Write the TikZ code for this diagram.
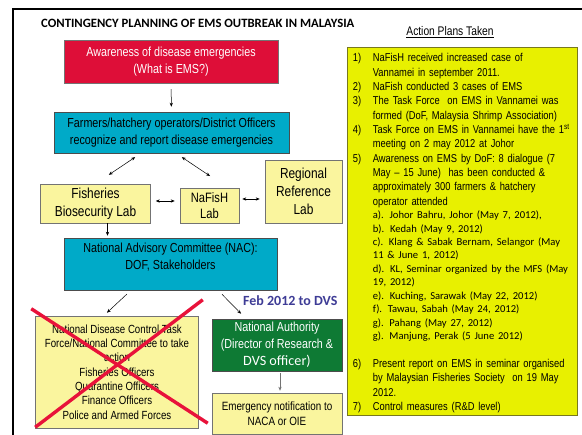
\documentclass[tikz,border=0pt]{standalone}
\usepackage{fontspec}
\setmainfont{Liberation Sans}
\newfontfamily\narrowsans{Liberation Sans}[FakeStretch=0.82]
\newfontfamily\calibrisans{Carlito}
\usetikzlibrary{arrows.meta,calc}

\definecolor{alarmred}{RGB}{222,14,56}
\definecolor{reportteal}{RGB}{0,170,200}
\definecolor{labyellow}{RGB}{250,245,158}
\definecolor{authgreen}{RGB}{14,122,52}
\definecolor{planyellow}{RGB}{232,240,0}
\definecolor{planborder}{RGB}{120,120,30}
\definecolor{febblue}{RGB}{62,60,150}
\definecolor{crossred}{RGB}{232,18,58}

% one line of the action plan list: number column, then text (never wrapped)
\newcommand\planrow[2]{\noindent\makebox[20pt][l]{#1}\mbox{#2}\par}

\tikzset{
  box/.style={draw=black!55, line width=0.5pt, inner sep=0pt, align=center},
  bigtext/.style={font=\narrowsans\fontsize{13.1}{16.8}\selectfont},
  labtext/.style={font=\narrowsans\fontsize{14.5}{17.8}\selectfont},
  smalltext/.style={font=\narrowsans\fontsize{11.8}{14.3}\selectfont},
  arr/.style={-{Stealth[length=4pt,width=3.2pt]}, line width=0.5pt},
  dbl/.style={{Stealth[length=4pt,width=3.2pt]}-{Stealth[length=4pt,width=3.2pt]}, line width=0.5pt},
  cross/.style={crossred, line width=3.4pt},
}

\begin{document}
\begin{tikzpicture}[x=1pt,y=-1pt]
\useasboundingbox (0,0) rectangle (582,435);
\fill[white] (0,0) rectangle (582,435);

% outer frame
\draw[line width=2.6pt] (13,436) -- (13,9) -- (583,9);

% heading
\node[anchor=west, inner sep=0pt, font=\calibrisans\bfseries\fontsize{12.7}{14}\selectfont]
  (title) at (41,23) {CONTINGENCY PLANNING OF EMS OUTBREAK IN MALAYSIA};

% flow chart
\node[box, bigtext, fill=alarmred, text=white, minimum width=214pt, minimum height=43pt]
  (aware) at (171,61.5) {Awareness of disease emergencies\\(What is EMS?)};
\node[box, bigtext, draw=black!70, fill=reportteal, minimum width=235pt, minimum height=41pt]
  (report) at (171.5,132.5) {Farmers/hatchery operators/District Officers\\recognize and report disease emergencies};
\node[box, labtext, fill=labyellow, minimum width=110pt, minimum height=39pt]
  (fish) at (95.5,203.5) {Fisheries\\Biosecurity Lab};
\node[box, font=\narrowsans\fontsize{13.6}{16.5}\selectfont, fill=labyellow, minimum width=59pt, minimum height=35pt]
  (nafish) at (209.5,205.5) {NaFisH\\Lab};
\node[box, labtext, fill=labyellow, minimum width=77pt, minimum height=63pt]
  (regional) at (303.5,191.5) {Regional\\Reference\\Lab};
\node[box, draw=black!70, fill=reportteal, minimum width=213pt, minimum height=52pt]
  (nac) at (170.5,264) {};
\node[bigtext, align=center, inner sep=0pt, anchor=north]
  (nactext) at ($(nac.north)+(0,5)$) {National Advisory Committee (NAC):\\DOF, Stakeholders};
\node[box, smalltext, fill=labyellow, minimum width=163pt, minimum height=112pt]
  (taskforce) at (117,372) {National Disease Control Task\\Force/National Committee to take\\action\\Fisheries Officers\\Quarantine Officers\\Finance Officers\\Police and Armed Forces};
\node[box, bigtext, draw=black!70, fill=authgreen, text=white, minimum width=130pt, minimum height=52pt]
  (authority) at (277,345) {National Authority\\(Director of Research \&\\{\calibrisans\fontsize{14.2}{16}\selectfont DVS officer)}};
\node[box, font=\narrowsans\fontsize{12}{15}\selectfont, fill=labyellow, minimum width=130pt, minimum height=41pt]
  (notify) at (277,413.5) {Emergency notification to\\NACA or OIE};
\node[anchor=west, inner sep=0pt, text=febblue, font=\calibrisans\bfseries\fontsize{14}{16}\selectfont]
  (feb) at (243,301) {Feb 2012 to DVS};

% the cancelled task force
\draw[cross] ($(taskforce.north west)+(-4,-7)$) -- ($(taskforce.south east)+(9,-5)$);
\draw[cross] ($(taskforce.south west)+(0,-1)$) -- ($(taskforce.north east)+(4,-16)$);

% connectors
\draw[arr, shorten <=6pt, shorten >=5pt] (aware) -- (report);
\draw[dbl, shorten <=7pt, shorten >=16pt] ($(report.south)+(-30.5,0)$) -- (fish.north);
\draw[dbl, shorten <=7pt, shorten >=21pt] ($(report.south)+(4.5,0)$) -- ($(nafish.north)+(18,0)$);
\draw[dbl] ($(fish.east)+(5,-2.5)$) -- ($(nafish.west)+(-5,-4.5)$);
\draw[dbl] ($(nafish.east)+(3,-6.5)$) -- ($(regional.west)+(-5,7.5)$);
\coordinate (fishout) at ($(fish.south)+(12,0)$);
\draw[arr, shorten >=2pt] (fishout) -- (fishout |- nac.north);
\draw[arr, shorten <=5.7pt, shorten >=4.4pt] ($(nac.south)+(-39.5,0)$) -- ($(taskforce.north)+(-13.3,0)$);
\draw[arr, shorten <=5.7pt, shorten >=7pt] ($(nac.south)+(47.5,0)$) -- ($(authority.north)+(-31,0)$);
\draw[arr, draw=black!55, shorten <=2pt, shorten >=2pt] ($(authority.south)+(3,0)$) -- ($(notify.north)+(3,0)$);

% action plans
\node[anchor=center, inner sep=0pt, font=\narrowsans\fontsize{12.5}{14}\selectfont]
  (planhead) at (450,32) {\underline{Action Plans Taken}};
\node[draw=planborder, line width=0.6pt, fill=planyellow, inner sep=0pt, minimum width=230pt, minimum height=368pt]
  (plans) at (462,231) {};
\node[anchor=north west, inner sep=0pt, text width=224pt, align=left,
      font=\narrowsans\fontsize{11.4}{14.35}\selectfont]
  (planlist) at ($(plans.north west)+(6,6.5)$) {%
\planrow{1)}{NaFisH received increased case of}
\planrow{}{Vannamei in september 2011.}
\planrow{2)}{NaFish conducted 3 cases of EMS}
\planrow{3)}{The Task Force~ on EMS in Vannamei was}
\planrow{}{formed (DoF, Malaysia Shrimp Association)}
\planrow{4)}{Task Force on EMS in Vannamei have the 1\textsuperscript{st}}
\planrow{}{meeting on 2 may 2012 at Johor}
\planrow{5)}{Awareness on EMS by DoF: 8 dialogue (7}
\planrow{}{May – 15 June)~ has been conducted \&}
\planrow{}{approximately 300 farmers \& hatchery}
\planrow{}{operator attended}
{\calibrisans\fontsize{10.6}{13.45}\selectfont
\planrow{}{a). Johor Bahru, Johor (May 7, 2012),}
\planrow{}{b). Kedah (May 9, 2012)}
\planrow{}{c). Klang \& Sabak Bernam, Selangor (May}
\planrow{}{11 \& June 1, 2012)}
\planrow{}{d). KL, Seminar organized by the MFS (May}
\planrow{}{19, 2012)}
\planrow{}{e). Kuching, Sarawak (May 22, 2012)}
\planrow{}{f). Tawau, Sabah (May 24, 2012)}
\planrow{}{g). Pahang (May 27, 2012)}
\planrow{}{g). Manjung, Perak (5 June 2012)}
}
\vspace{13.6pt}
\planrow{6)}{Present report on EMS in seminar organised}
\planrow{}{by Malaysian Fisheries Society~ on 19 May}
\planrow{}{2012.}
\planrow{7)}{Control measures (R\&D level)}
};
\end{tikzpicture}
\end{document}
